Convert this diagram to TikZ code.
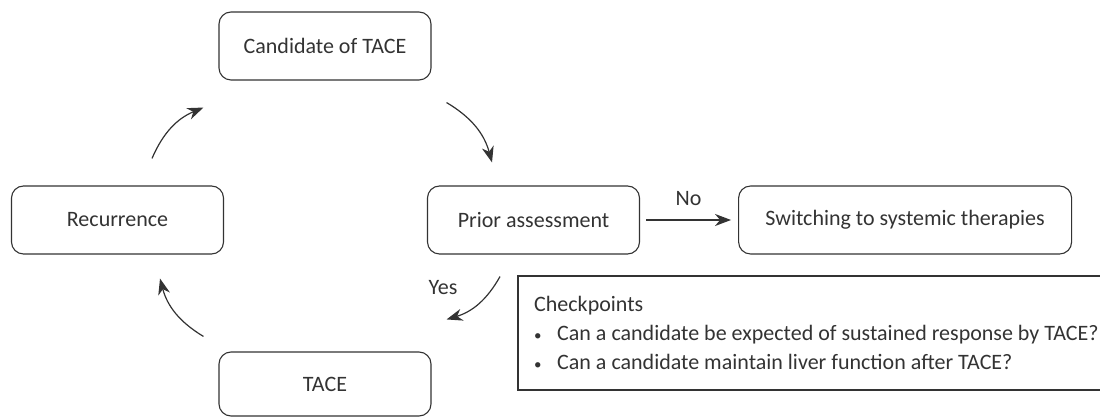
\documentclass[tikz,border=0pt]{standalone}
\usepackage{fontspec}
\setmainfont{Carlito}
\usepackage{tikz}
\usepackage{xcolor}
\usetikzlibrary{arrows.meta, positioning}
\definecolor{ink}{HTML}{333333}
\tikzstyle{box} = [rectangle, rounded corners=12pt, minimum width=212pt, minimum height=68pt, text centered, draw=ink, line width=1.1pt, text=ink, font=\fontsize{22}{26}\selectfont]
\tikzstyle{note} = [inner sep=0pt, text=ink, font=\fontsize{22}{26}\selectfont]
\tikzstyle{arrow} = [line width=1.2pt, draw=ink, ->, >={Stealth[length=16pt,width=12pt,inset=5pt]}]
\newcommand{\chkbullet}{\makebox[25pt][l]{\hspace{2pt}{\fontsize{15}{15}\selectfont\textbullet}}}

\begin{document}
\begin{tikzpicture}[x=1pt, y=1pt]
    \useasboundingbox (0,0) rectangle (1100,417);
    \node (cand) [box] at (325,371) {Candidate of TACE};
    \node (rec) [box] at (117.5,197) {Recurrence};
    \node (prior) [box] at (533.5,197) {Prior assessment};
    \node (switch) [box, minimum width=333pt, right=98pt of prior] {Switching to systemic therapies};
    \node (tace) [box, minimum height=64pt] at (325,33) {TACE};
    \draw[arrow] ([xshift=34.5pt,yshift=27pt]rec.north) to[bend left=22] ([xshift=-15pt,yshift=-27pt]cand.south west);
    \draw[arrow] ([xshift=15pt,yshift=-22pt]cand.south east) to[bend left=22] ([xshift=-41.5pt,yshift=23pt]prior.north);
    \draw[arrow] ([xshift=-33.5pt,yshift=-22pt]prior.south) to[bend left=22] ([xshift=15pt,yshift=32pt]tace.north east);
    \draw[arrow] ([xshift=-15pt,yshift=15pt]tace.north west) to[bend left=22] ([xshift=42.5pt,yshift=-24pt]rec.south);
    \draw[arrow] ([xshift=6pt]prior.east) -- node (no) [note, above=14pt] {No} ([xshift=-7pt]switch.west);
    \node (yes) [note] at (443,129) {Yes};
    % checkpoints frame, open to the right
    \draw[ink, line width=1.1pt] (1100,141) -- (518,141) -- (518,27) -- (1100,27);
    \node (chk) [note, anchor=base west] at (534,105) {Checkpoints};
    \node (chk1) [note, anchor=base west] at (532,76) {\chkbullet Can a candidate be expected of sustained response by TACE?};
    \node (chk2) [note, anchor=base west] at (532,47) {\chkbullet Can a candidate maintain liver function after TACE?};
\end{tikzpicture}
\end{document}
